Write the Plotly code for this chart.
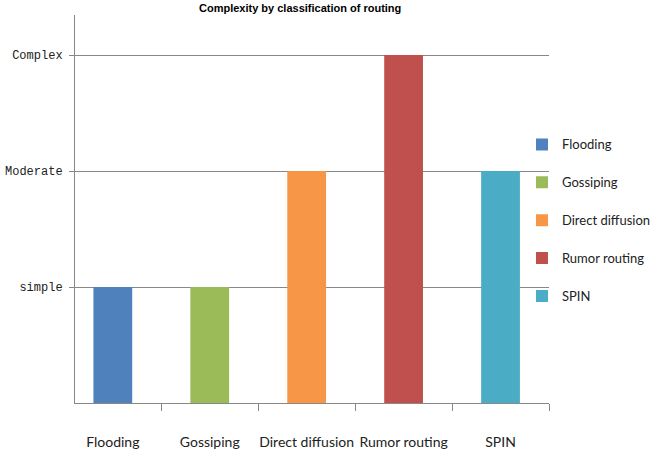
import plotly.graph_objects as go

categories = ["Flooding", "Gossiping", "Direct diffusion", "Rumor routing", "SPIN"]
complexity = [1, 1, 2, 3, 2]
colors = ["#4F81BD", "#9BBB59", "#F79646", "#C0504D", "#4BACC6"]
level_vals = [1, 2, 3]
level_text = ["simple", "Moderate", "Complex"]
title_text = "Complexity by classification of routing"

fig = go.Figure()
for i, (c, v, col) in enumerate(zip(categories, complexity, colors)):
    fig.add_trace(go.Bar(
        x=[c], y=[v], name=c, marker=dict(color=col, line=dict(width=0)),
        width=0.4, legendgroup=f"g{i}",
    ))

fig.update_layout(
    width=654, height=455,
    margin=dict(l=75, r=105, t=15, b=52, autoexpand=False),
    plot_bgcolor="white", paper_bgcolor="white",
    showlegend=True,
    legend=dict(x=0.943, xanchor="left", y=0.705, yanchor="top",
                font=dict(family="Lato, Liberation Sans, sans-serif", size=13, color="#222"),
                tracegroupgap=18, itemwidth=30, bgcolor="rgba(0,0,0,0)"),
    bargap=0.6,
)
fig.update_xaxes(
    type="category", range=[-0.39, 4.5],
    showline=True, linecolor="#888", linewidth=1,
    ticks="outside", tickson="boundaries", ticklen=7, tickcolor="#888",
    showgrid=False, tickangle=0,
    tickfont=dict(family="Lato, Liberation Sans, sans-serif", size=14, color="#222"),
    ticklabelstandoff=26,
)
fig.update_yaxes(
    range=[0, 3.345],
    tickvals=level_vals, ticktext=level_text,
    showline=True, linecolor="#888", linewidth=1,
    ticks="outside", ticklen=5, tickcolor="#888",
    showgrid=True, gridcolor="#888", gridwidth=1,
    zeroline=False, ticklabelstandoff=4,
    tickfont=dict(family="Liberation Mono, DejaVu Sans Mono, monospace", size=12, color="#222"),
)
fig.add_annotation(
    text="<b>" + title_text + "</b>", xref="paper", yref="paper", x=0.474, xanchor="center",
    y=1.0387, yanchor="top", showarrow=False,
    font=dict(family="Liberation Sans, Arial, sans-serif", size=11, color="#000"),
)
fig.write_html("out.html")
